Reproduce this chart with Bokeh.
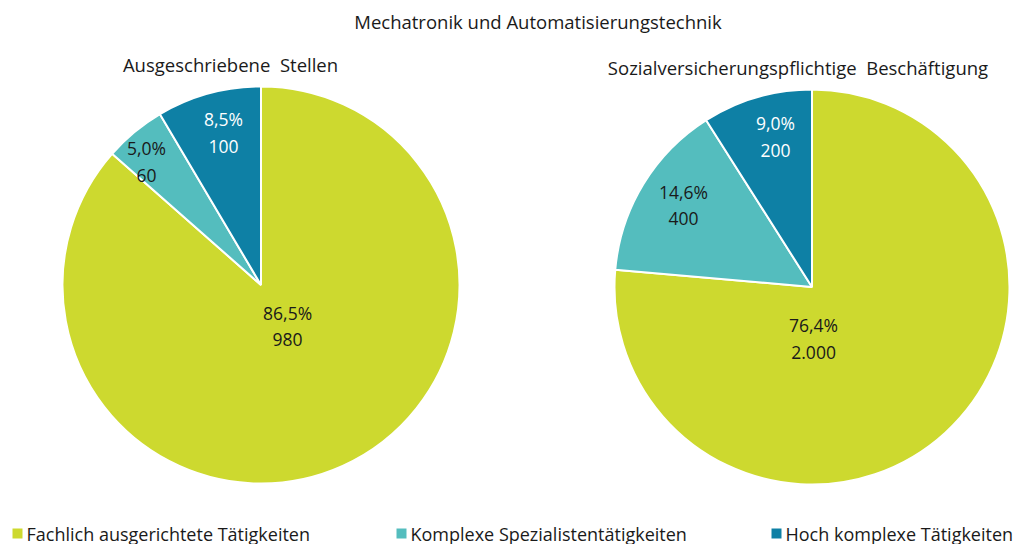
import math
from bokeh.plotting import figure
from bokeh.models import Range1d, ColumnDataSource
from bokeh.core.properties import value
from bokeh.embed import file_html
from bokeh.resources import INLINE

# ---- data ----
title = "Mechatronik und Automatisierungstechnik"
categories = ["Fachlich ausgerichtete Tätigkeiten", "Komplexe Spezialistentätigkeiten", "Hoch komplexe Tätigkeiten"]
left_title = "Ausgeschriebene\u00a0\u00a0Stellen"
left_pct = [86.5, 5.0, 8.5]
left_counts = ["980", "60", "100"]
right_title = "Sozialversicherungspflichtige\u00a0\u00a0Beschäftigung"
right_pct = [76.4, 14.6, 9.0]
right_counts = ["2.000", "400", "200"]

# ---- style / layout ----
colors = ["#CDD92F", "#54BDBE", "#0E80A5"]
label_colors = ["#1a1a1a", "#1a1a1a", "#ffffff"]
FONT = "Open Sans"
W, H = 1013, 544


def sy(y):
    return H - y  # picture y -> data y


p = figure(width=W, height=H, output_backend="svg", toolbar_location=None,
           x_range=Range1d(0, W), y_range=Range1d(0, H),
           min_border=0, outline_line_color=None)
p.axis.visible = False
p.grid.visible = False
p.background_fill_color = "white"
p.border_fill_color = "white"

pies = [
    dict(cx=260.5, cy=284.5, r=198.5, pct=left_pct, counts=left_counts, title=left_title, tx=230, ty=64,
         offs=[(0.134, 0.209), (-0.577, -0.622), (-0.189, -0.768)]),
    dict(cx=811.5, cy=286.5, r=197.5, pct=right_pct, counts=right_counts, title=right_title, tx=797.5, ty=67,
         offs=[(0.008, 0.261), (-0.651, -0.413), (-0.185, -0.762)]),
]

for pie in pies:
    starts, ends = [], []
    cum = 0.0
    for v in pie["pct"]:
        a0 = math.radians(90 - cum * 3.6)
        cum += v
        a1 = math.radians(90 - cum * 3.6)
        starts.append(a0)
        ends.append(a1)
    src = ColumnDataSource(dict(x=[pie["cx"]] * 3, y=[sy(pie["cy"])] * 3, s=starts, e=ends, c=colors))
    p.wedge(x="x", y="y", radius=pie["r"], start_angle="s", end_angle="e", direction="clock",
            fill_color="c", line_color="white", line_width=2, source=src)
    lx, ly1, ly2, t1, t2 = [], [], [], [], []
    for i, (dx, dy) in enumerate(pie["offs"]):
        x = pie["cx"] + dx * pie["r"]
        y = pie["cy"] + dy * pie["r"]
        lx.append(x)
        ly1.append(sy(y - 13.5))
        ly2.append(sy(y + 13.5))
        t1.append(f"{pie['pct'][i]:.1f}%".replace(".", ","))
        t2.append(pie["counts"][i])
    lsrc = ColumnDataSource(dict(x=lx, y1=ly1, y2=ly2, t1=t1, t2=t2, c=label_colors))
    for yk, tk in (("y1", "t1"), ("y2", "t2")):
        p.text(x="x", y=yk, text=tk, source=lsrc, text_color="c", text_font=value(FONT),
               text_font_size="17.5px", text_align="center", text_baseline="middle")
    p.text(x=[pie["tx"]], y=[sy(pie["ty"])], text=[pie["title"]], text_font=value(FONT),
           text_font_size="18.5px", text_color="#1a1a1a", text_align="center", text_baseline="middle")

# main title
p.text(x=[537.5], y=[sy(21)], text=[title], text_font=value(FONT), text_font_size="18.5px",
       text_color="#1a1a1a", text_align="center", text_baseline="middle")

# legend
leg_x = [12, 396, 771]
leg_y = 533
p.rect(x=[lx_ + 5 for lx_ in leg_x], y=[sy(leg_y)] * 3, width=10, height=10, fill_color=colors,
       line_color=None)
p.text(x=[lx_ + 14 for lx_ in leg_x], y=[sy(leg_y)] * 3, text=categories, text_font=value(FONT),
       text_font_size="18px", text_color="#1a1a1a", text_align="left", text_baseline="middle")

open("out.html", "w").write(file_html(p, INLINE))
